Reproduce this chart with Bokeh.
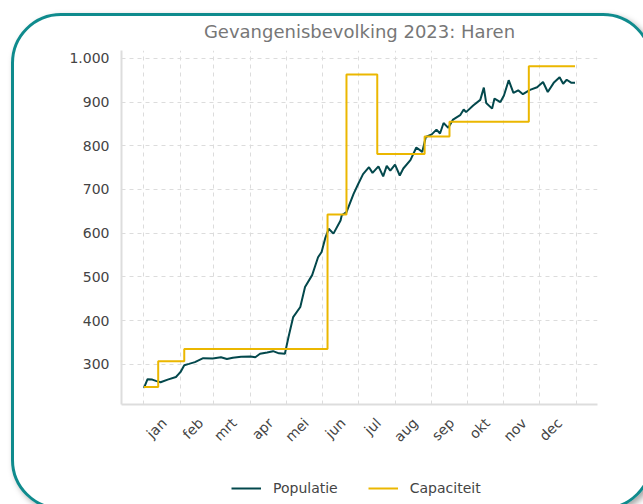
import math
from bokeh.plotting import figure
from bokeh.layouts import column
from bokeh.models import Range1d, FixedTicker, Legend, LegendItem, InlineStyleSheet
from bokeh.embed import file_html
from bokeh.resources import INLINE

# ---- data ----
month_labels = ["jan", "feb", "mrt", "apr", "mei", "jun", "jul", "aug", "sep", "okt", "nov", "dec"]
month_start_days = [0, 31, 59, 90, 120, 151, 181, 212, 243, 273, 304, 334]
grid_days = month_start_days + [365]

y_ticks = [300, 400, 500, 600, 700, 800, 900, 1000]
y_tick_labels = ["300", "400", "500", "600", "700", "800", "900", "1.000"]

pop_days = [0, 3, 7, 10, 14, 20, 27, 29, 31, 34, 38, 43, 50, 58, 65, 70, 75, 82, 90, 94,
            98, 104, 109, 114, 119, 122, 126, 132, 136, 142, 147, 150, 153, 156, 160, 166, 167, 171, 177, 181,
            185, 190, 193, 198, 202, 205, 208, 212, 216, 219, 225, 230, 235, 238, 243, 247, 250, 253, 257, 261,
            267, 270, 272, 278, 284, 287, 289, 294, 296, 301, 304, 308, 312, 316, 320, 326, 332, 337, 341, 346,
            351, 354, 357, 361, 364]
pop_values = [246, 266, 265, 262, 259, 265, 271, 277, 283, 298, 301, 305, 314, 313, 316, 312, 315, 317, 318, 316,
              324, 327, 330, 325, 324, 362, 408, 431, 477, 504, 545, 557, 588, 610, 599, 629, 641, 648, 690, 713,
              735, 751, 738, 753, 730, 754, 743, 757, 732, 748, 767, 796, 786, 820, 826, 837, 828, 852, 841, 860,
              870, 883, 877, 892, 905, 933, 898, 885, 908, 900, 915, 950, 921, 927, 918, 928, 934, 946, 923, 944,
              957, 942, 951, 944, 944]

cap_days = [0, 12, 34, 155, 171, 197, 237, 258, 325, 364]
cap_values = [248, 307, 335, 643, 963, 781, 821, 855, 982, 982]

series_names = ["Populatie", "Capaciteit"]

# ---- style ----
FONT = "DejaVu Sans"
POP_COLOR = "#03484c"
CAP_COLOR = "#ebb700"
GRID_COLOR = "#dcdcdc"
LABEL_SHIFT = 17

card_css = InlineStyleSheet(css="""
:host { position: relative; overflow: hidden; }
:host::after {
  content: "";
  position: absolute;
  left: 0; top: 0; width: 642px; height: 497px;
  max-width: none; max-height: none;
  transform: translate(11px, 13px);
  box-sizing: border-box;
  border: 3px solid #0f8b8d;
  border-radius: 50px;
  box-shadow: 3px 3px 6px rgba(0, 0, 0, 0.35);
  pointer-events: none;
  z-index: 10;
}
""")

p = figure(
    frame_width=476, frame_height=354,
    min_border_left=121, min_border_right=46, min_border_top=50, min_border_bottom=60,
    x_range=Range1d(-19, 383), y_range=Range1d(208, 1018),
    output_backend="svg", toolbar_location=None,
    title="Gevangenisbevolking 2023: Haren",
)
p.outline_line_color = None
p.background_fill_color = "white"
p.border_fill_color = "white"

p.title.align = "center"
p.title.text_font = FONT
p.title.text_font_size = "18px"
p.title.text_font_style = "normal"
p.title.text_color = "#777777"
p.title.standoff = 18

# axes
label_ticks = [d + LABEL_SHIFT for d in month_start_days]
p.xaxis.ticker = FixedTicker(ticks=label_ticks)
p.xaxis.major_label_overrides = {t: lab for t, lab in zip(label_ticks, month_labels)}
p.xaxis.major_label_orientation = math.pi / 4
p.yaxis.ticker = FixedTicker(ticks=y_ticks)
p.yaxis.major_label_overrides = {t: lab for t, lab in zip(y_ticks, y_tick_labels)}
for ax in (p.xaxis[0], p.yaxis[0]):
    ax.axis_line_color = "#dddddd"
    ax.axis_line_width = 2
    ax.major_tick_line_color = None
    ax.minor_tick_line_color = None
    ax.major_tick_out = 0
    ax.major_tick_in = 0
    ax.major_label_text_font = FONT
    ax.major_label_text_font_size = "14px"
    ax.major_label_text_color = "#444444"
p.yaxis.major_label_standoff = 12
p.xaxis.major_label_standoff = 16

p.xgrid.ticker = FixedTicker(ticks=grid_days)
for g in (p.xgrid[0], p.ygrid[0]):
    g.grid_line_color = GRID_COLOR
    g.grid_line_dash = "4 4"
    g.grid_line_width = 1

p.line(pop_days, pop_values, line_color=POP_COLOR, line_width=2)
p.step(cap_days, cap_values, mode="after", line_color=CAP_COLOR, line_width=2)

# legend strip below the chart (its frame is aligned with the chart frame)
pl = figure(width=643, height=40, min_border=0, output_backend="svg", toolbar_location=None,
            x_range=Range1d(-1000, -999), y_range=Range1d(-1000, -999))
pl.axis.visible = False
pl.grid.visible = False
pl.outline_line_color = None
pl.border_fill_color = "white"
pl.background_fill_color = "white"
lg_pop = pl.line(pop_days, pop_values, line_color=POP_COLOR, line_width=2)
lg_cap = pl.step(cap_days, cap_values, mode="after", line_color=CAP_COLOR, line_width=2)
legend = Legend(
    items=[LegendItem(label=series_names[0], renderers=[lg_pop]),
           LegendItem(label=series_names[1], renderers=[lg_cap])],
    orientation="horizontal", location=(110, 6),
    label_text_font=FONT, label_text_font_size="14px", label_text_color="#444444",
    glyph_width=30, glyph_height=20, label_standoff=12, spacing=30, padding=0, margin=0,
    border_line_color=None, background_fill_alpha=0,
)
pl.add_layout(legend)

layout = column(p, pl, spacing=0, stylesheets=[card_css])

open("out.html", "w").write(file_html(layout, INLINE))
